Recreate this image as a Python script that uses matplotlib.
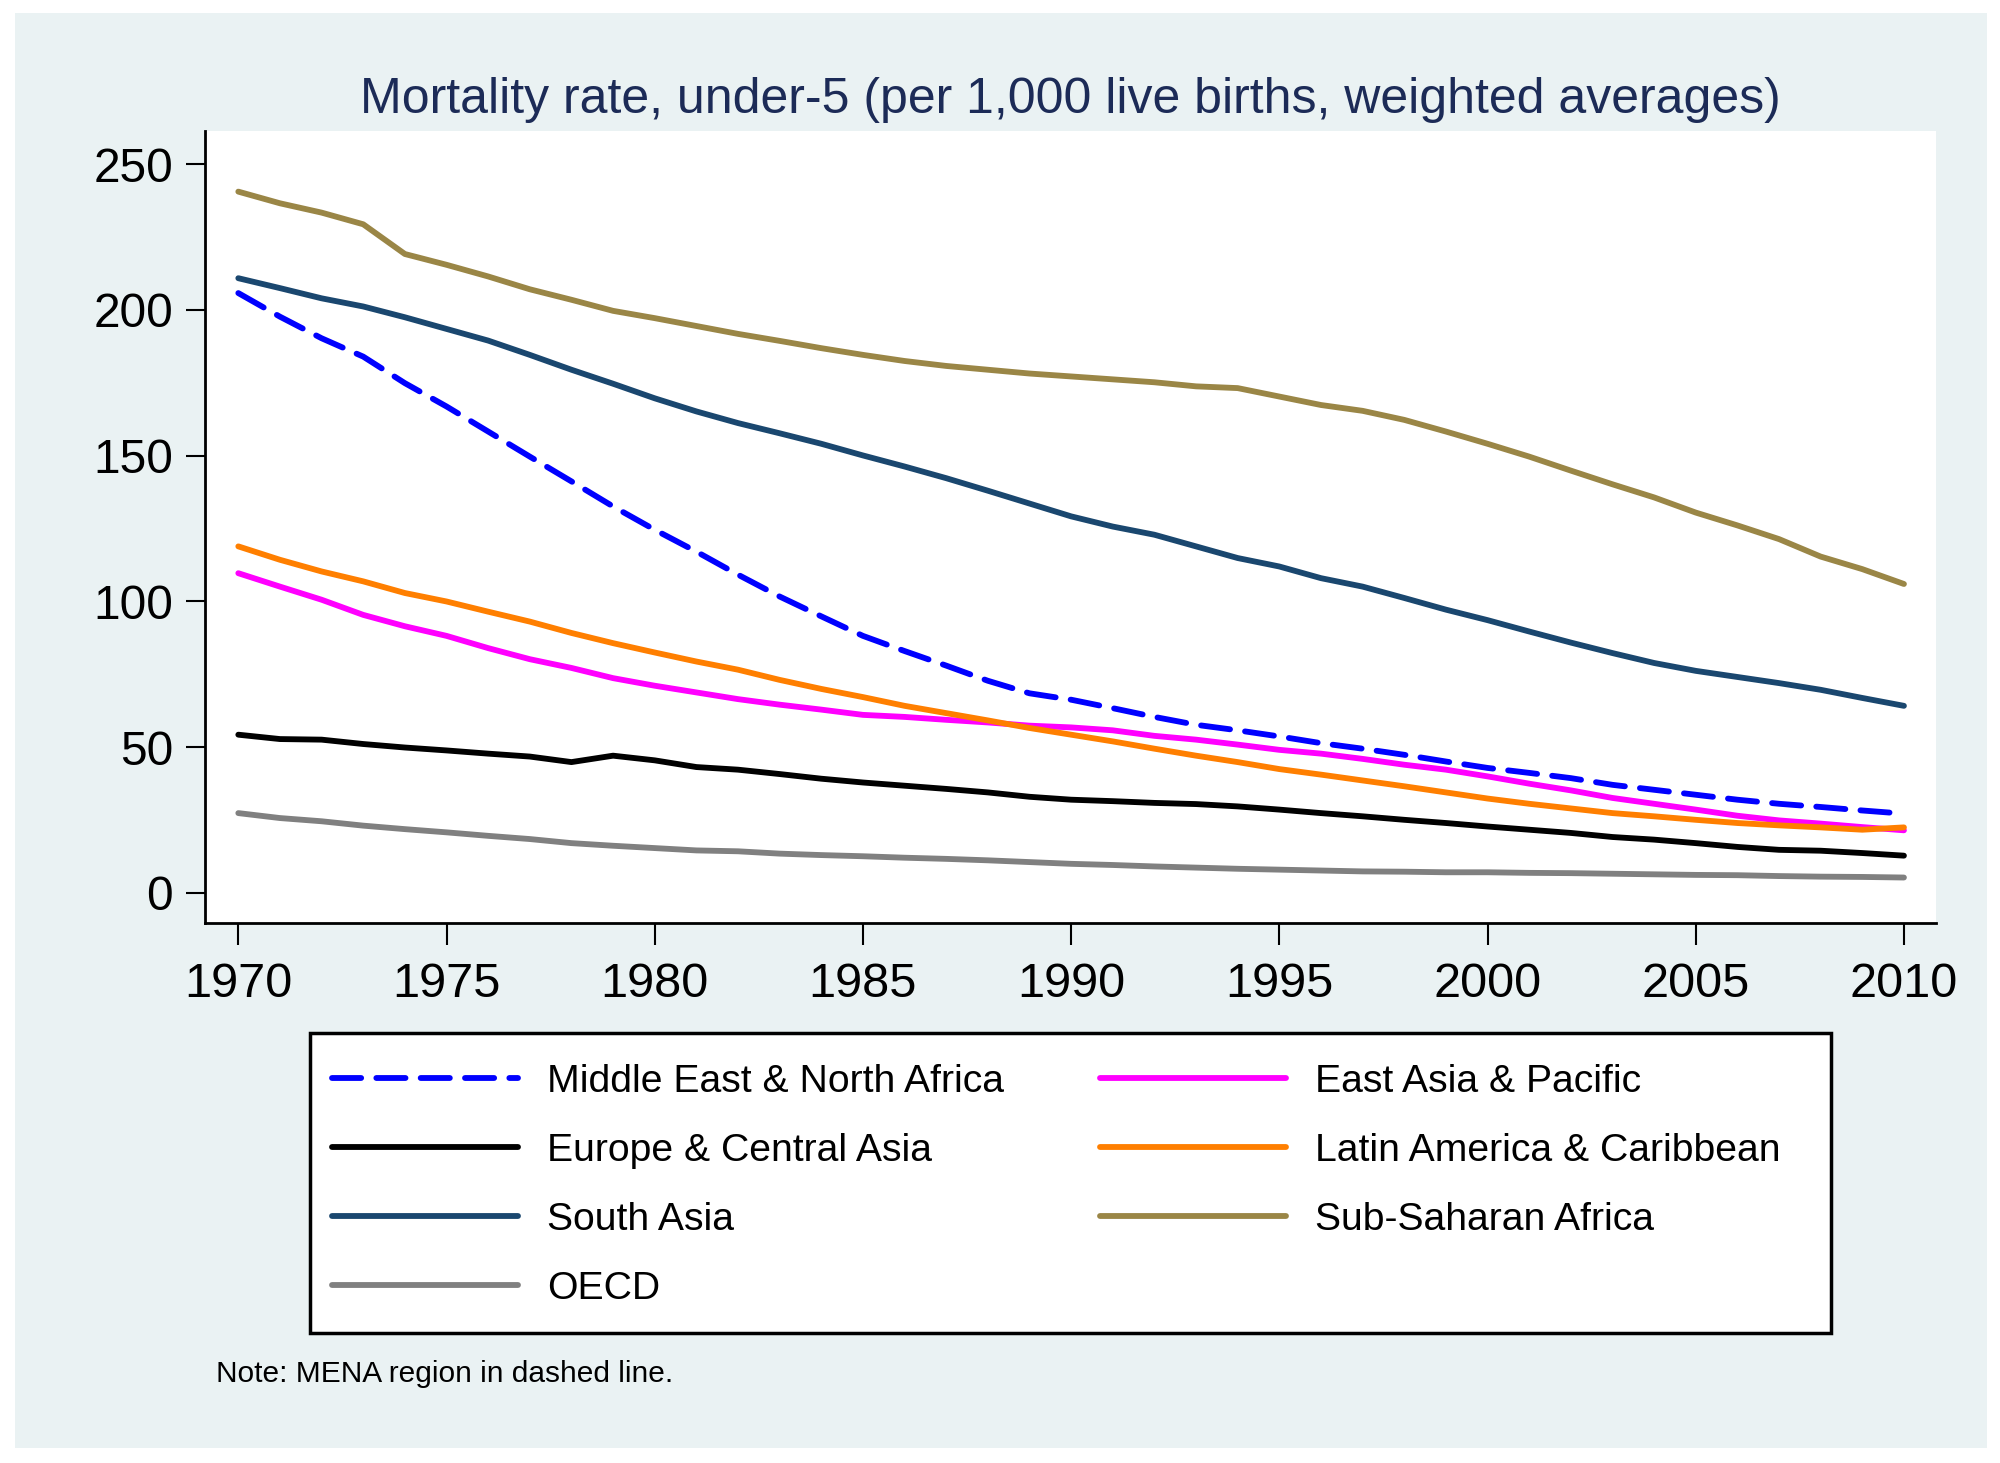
import matplotlib
matplotlib.use("Agg")
import matplotlib.pyplot as plt
from matplotlib.patches import Rectangle

plt.rcParams["font.family"] = ["Liberation Sans", "DejaVu Sans"]

years = list(range(1970, 2011))

mena = [205.8, 197.7, 190.3, 184.0, 174.9, 166.9, 158.3, 149.7, 141.2, 132.6,
        124.6, 117.1, 109.2, 101.7, 94.9, 88.2, 83.0, 78.0, 72.8, 68.5,
        66.3, 63.4, 60.4, 57.7, 55.8, 53.7, 51.4, 49.5, 47.4, 45.1,
        42.9, 41.2, 39.4, 37.1, 35.4, 33.7, 32.0, 30.6, 29.5, 28.3, 27.2]
east_asia = [109.7, 105.1, 100.6, 95.4, 91.5, 88.2, 84.0, 80.2, 77.2, 73.7,
             71.1, 68.8, 66.5, 64.6, 62.9, 61.1, 60.4, 59.4, 58.5, 57.4,
             56.8, 55.8, 53.9, 52.6, 50.9, 49.1, 47.8, 46.0, 44.0, 42.3,
             40.0, 37.5, 35.2, 32.6, 30.6, 28.6, 26.5, 24.9, 23.8, 22.6, 21.5]
europe = [54.3, 52.8, 52.6, 51.1, 49.9, 48.9, 47.8, 46.8, 44.9, 47.1,
          45.5, 43.2, 42.3, 40.8, 39.2, 37.9, 36.8, 35.7, 34.5, 33.0,
          32.0, 31.5, 30.9, 30.5, 29.7, 28.6, 27.4, 26.3, 25.1, 24.0,
          22.8, 21.7, 20.6, 19.2, 18.3, 17.1, 15.8, 14.8, 14.5, 13.7, 12.8]
latam = [118.9, 114.3, 110.3, 106.9, 102.9, 100.0, 96.5, 93.1, 89.2, 85.7,
         82.5, 79.4, 76.6, 73.1, 70.0, 67.2, 64.2, 61.7, 59.2, 56.6,
         54.3, 52.0, 49.5, 47.1, 44.9, 42.5, 40.6, 38.6, 36.6, 34.5,
         32.4, 30.6, 29.0, 27.4, 26.3, 25.1, 24.0, 23.2, 22.5, 21.7, 22.5]
south_asia = [210.9, 207.5, 204.0, 201.2, 197.5, 193.5, 189.5, 184.6, 179.5, 174.7,
              169.7, 165.2, 161.2, 157.7, 154.1, 150.1, 146.3, 142.3, 138.0, 133.6,
              129.2, 125.7, 122.9, 118.9, 114.9, 112.0, 108.0, 105.1, 101.2, 97.2,
              93.6, 89.7, 85.9, 82.3, 78.9, 76.2, 74.1, 72.0, 69.7, 66.9, 64.2]
ssa = [240.6, 236.6, 233.4, 229.4, 219.2, 215.5, 211.5, 207.1, 203.5, 199.7,
       197.2, 194.5, 191.8, 189.4, 186.9, 184.6, 182.5, 180.8, 179.5, 178.2,
       177.2, 176.2, 175.2, 173.8, 173.2, 170.3, 167.4, 165.4, 162.3, 158.3,
       154.1, 149.7, 144.9, 140.2, 135.7, 130.5, 126.1, 121.4, 115.4, 111.1, 106.0]
oecd = [27.4, 25.7, 24.6, 23.1, 21.9, 20.8, 19.6, 18.5, 17.1, 16.2,
        15.4, 14.6, 14.3, 13.5, 13.0, 12.6, 12.1, 11.7, 11.2, 10.6,
        10.0, 9.6, 9.1, 8.7, 8.3, 8.0, 7.7, 7.4, 7.3, 7.1,
        7.1, 6.9, 6.8, 6.6, 6.4, 6.2, 6.1, 5.8, 5.6, 5.5, 5.3]

series = [
    ("Middle East & North Africa", mena, "#0000ff", "dashed"),
    ("East Asia & Pacific", east_asia, "#ff00ff", "solid"),
    ("Europe & Central Asia", europe, "#000000", "solid"),
    ("Latin America & Caribbean", latam, "#ff7f00", "solid"),
    ("South Asia", south_asia, "#1a476f", "solid"),
    ("Sub-Saharan Africa", ssa, "#9a8646", "solid"),
    ("OECD", oecd, "#808080", "solid"),
]

W, H = 2000, 1463
BG = "#eaf2f3"

fig = plt.figure(figsize=(W / 100, H / 100), dpi=100, facecolor="white")
fig.patches.append(Rectangle((15 / W, 1 - 1448 / H), 1972 / W, 1435 / H,
                             transform=fig.transFigure, facecolor=BG,
                             edgecolor="none", zorder=-1))

ax = fig.add_axes([205 / W, 1 - 923 / H, 1731 / W, 792 / H])
ax.set_facecolor("white")

handles = {}
for label, values, color, style in series:
    (line,) = ax.plot(years, values, color=color, lw=4.2,
                      solid_capstyle="round", dash_capstyle="round",
                      solid_joinstyle="round", label=label)
    if style == "dashed":
        line.set_dashes([5.0, 2.6])
    handles[label] = line

ax.set_xlim(1969.2, 2010.77)
ax.set_ylim(-10.3, 261.4)
ax.set_xticks(range(1970, 2011, 5))
ax.set_yticks(range(0, 251, 50))
for side in ("top", "right"):
    ax.spines[side].set_visible(False)
for side in ("left", "bottom"):
    ax.spines[side].set_linewidth(2)
ax.tick_params(axis="x", length=16, width=1.5, pad=12, labelsize=35)
ax.tick_params(axis="y", length=14, width=1.5, pad=9, labelsize=34.5)

fig.text(1070.5 / W, 1 - 113 / H,
         "Mortality rate, under-5 (per 1,000 live births, weighted averages)",
         ha="center", va="baseline", fontsize=36, color="#1c2b57")

# legend frame, then one legend per column so both columns land where they should
fig.patches.append(Rectangle((310 / W, 1 - 1333 / H), 1521 / W, 300 / H,
                             transform=fig.transFigure, facecolor="white",
                             edgecolor="black", lw=2.5, zorder=1))
col1 = ["Middle East & North Africa", "Europe & Central Asia", "South Asia", "OECD"]
col2 = ["East Asia & Pacific", "Latin America & Caribbean", "Sub-Saharan Africa"]
leg_kw = dict(loc="upper left", frameon=False, fontsize=28.2, borderpad=0,
              borderaxespad=0, handlelength=4.75, handletextpad=0.75,
              labelspacing=0.84)
fig.legend([handles[k] for k in col1], col1,
           bbox_to_anchor=(332 / W, 1 - 1064 / H), **leg_kw)
fig.legend([handles[k] for k in col2], col2,
           bbox_to_anchor=(1100 / W, 1 - 1064 / H), **leg_kw)

fig.text(216 / W, 1 - 1381.7 / H, "Note: MENA region in dashed line.",
         ha="left", va="baseline", fontsize=21.5)

fig.savefig("out.png", dpi=100, facecolor="white")
